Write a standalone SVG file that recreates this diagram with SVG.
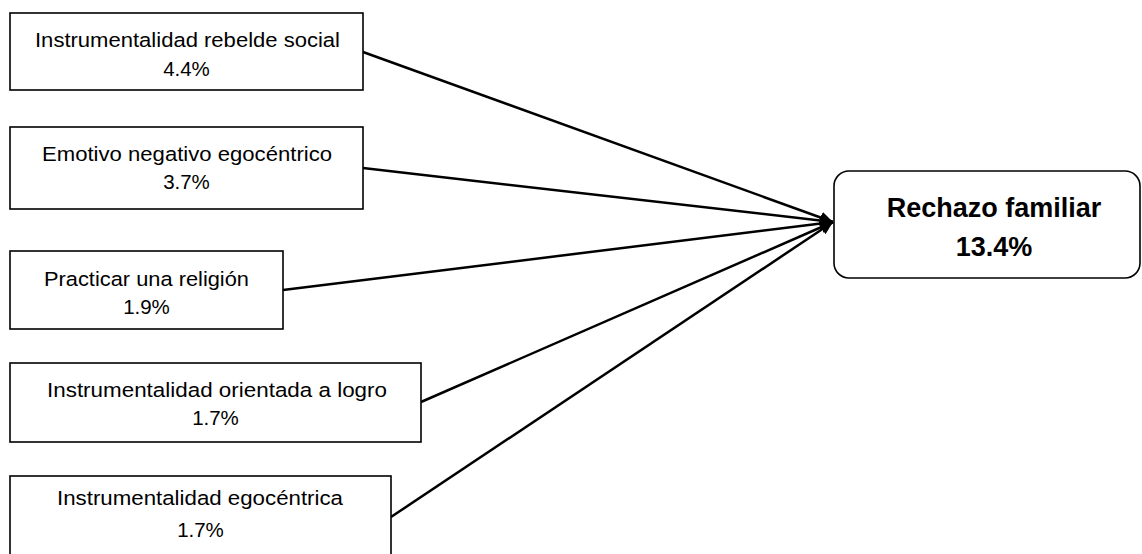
<svg xmlns="http://www.w3.org/2000/svg" width="1142" height="554" viewBox="0 0 1142 554">
<style>
.box{fill:#fff;stroke:#000;stroke-width:1.6}
.t{font-family:"Liberation Sans",Arial,sans-serif;font-size:20.5px;fill:#000;text-anchor:middle}
.tb{font-family:"Liberation Sans",Arial,sans-serif;font-size:27px;font-weight:bold;fill:#000;text-anchor:middle}
.edge{stroke:#000;stroke-width:2.5;fill:none;marker-end:url(#ah)}
</style>
<defs>
<marker id="ah" markerUnits="userSpaceOnUse" markerWidth="14" markerHeight="12" refX="13" refY="6" orient="auto">
<path d="M0,0 L13,6 L0,12 z" fill="#000"/>
</marker>
</defs>
<rect width="1142" height="554" fill="#fff"/>
<g id="connectors">
<line class="edge" x1="363" y1="52" x2="833" y2="222"/>
<line class="edge" x1="363" y1="168" x2="833" y2="222"/>
<line class="edge" x1="283" y1="290" x2="833" y2="222"/>
<line class="edge" x1="421" y1="402" x2="833" y2="222"/>
<line class="edge" x1="391" y1="517" x2="833" y2="222"/>
</g>
<g id="n1">
<rect class="box" x="10" y="13" width="353" height="77"/>
<text class="t" x="187.5" y="47" textLength="305" lengthAdjust="spacingAndGlyphs">Instrumentalidad rebelde social</text>
<text class="t" x="186.5" y="76">4.4%</text>
</g>
<g id="n2">
<rect class="box" x="10" y="127" width="353" height="82"/>
<text class="t" x="187" y="161" textLength="290" lengthAdjust="spacingAndGlyphs">Emotivo negativo egocéntrico</text>
<text class="t" x="186.5" y="189">3.7%</text>
</g>
<g id="n3">
<rect class="box" x="10" y="251" width="273" height="78"/>
<text class="t" x="146.5" y="286" textLength="205" lengthAdjust="spacingAndGlyphs">Practicar una religión</text>
<text class="t" x="146.5" y="314">1.9%</text>
</g>
<g id="n4">
<rect class="box" x="10" y="363" width="411" height="79"/>
<text class="t" x="217" y="397" textLength="340" lengthAdjust="spacingAndGlyphs">Instrumentalidad orientada a logro</text>
<text class="t" x="215.5" y="425">1.7%</text>
</g>
<g id="n5">
<rect class="box" x="10" y="476" width="381" height="90"/>
<text class="t" x="200" y="505" textLength="286" lengthAdjust="spacingAndGlyphs">Instrumentalidad egocéntrica</text>
<text class="t" x="200.5" y="537">1.7%</text>
</g>
<g id="target">
<rect class="box" x="834" y="171" width="306" height="107" rx="15" ry="15"/>
<text class="tb" x="994" y="217">Rechazo familiar</text>
<text class="tb" x="994" y="256">13.4%</text>
</g>
</svg>
